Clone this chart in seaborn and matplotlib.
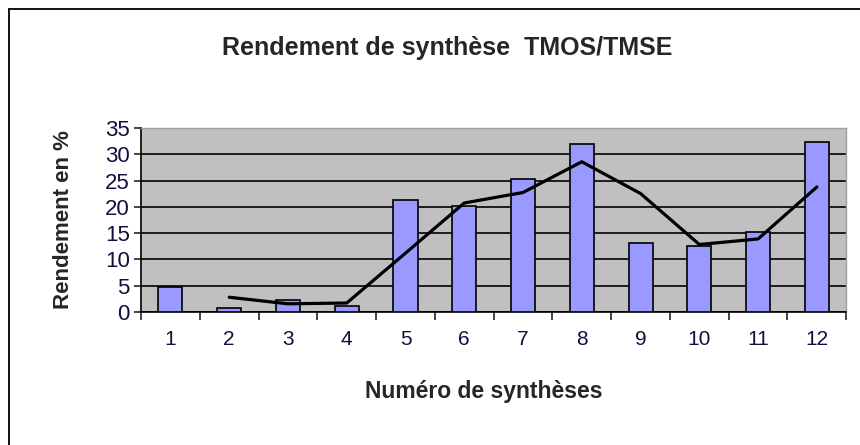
import numpy as np
import pandas as pd
import matplotlib
matplotlib.use("Agg")
import matplotlib.pyplot as plt
from matplotlib.lines import Line2D
import seaborn as sns

# Synthesis numbers and yields (%)
syntheses = ["1", "2", "3", "4", "5", "6", "7", "8", "9", "10", "11", "12"]
rendement = [4.8, 0.8, 2.3, 1.1, 21.3, 20.2, 25.3, 31.9, 13.2, 12.5, 15.3, 32.3]
y_ticks = [0, 5, 10, 15, 20, 25, 30, 35]

df = pd.DataFrame({"synthese": syntheses, "rendement": rendement})
# two-period moving average trend line
df["moyenne"] = df["rendement"].rolling(2).mean()
df["pos"] = np.arange(len(df))

sns.set_style("white")
plt.rcParams["font.family"] = ["Liberation Sans", "DejaVu Sans"]

fig = plt.figure(figsize=(8.6, 4.45), dpi=100)
ax = fig.add_axes([0.164, 0.299, 0.820, 0.413])
ax.set_facecolor("#C0C0C0")

sns.barplot(data=df, x="synthese", y="rendement", color="#9999FF",
            edgecolor="black", linewidth=1.2, width=0.41, saturation=1, ax=ax, zorder=3)
sns.lineplot(data=df.dropna(), x="pos", y="moyenne", color="black",
             linewidth=2.3, ax=ax, zorder=4)

ax.set_xlim(-0.5, len(syntheses) - 0.5)
ax.set_ylim(0, 35)
ax.set_yticks(y_ticks)
ax.grid(axis="y", color="black", linewidth=1.2, zorder=0)
ax.set_axisbelow(True)

for side in ["top", "right"]:
    ax.spines[side].set_visible(True)
    ax.spines[side].set_color("#A0A0A0")
    ax.spines[side].set_linewidth(1)
for side in ["left", "bottom"]:
    ax.spines[side].set_color("black")
    ax.spines[side].set_linewidth(1.2)

label_color = "#101040"
ax.tick_params(axis="y", labelsize=16, labelcolor=label_color, length=5,
               width=1.2, direction="out", left=True, pad=3)
ax.set_xticks(np.arange(len(syntheses)))
ax.set_xticklabels(syntheses)
ax.tick_params(axis="x", labelsize=15, labelcolor=label_color, length=0, pad=13)
ax.set_xticks(np.arange(len(syntheses) + 1) - 0.5, minor=True)
ax.tick_params(axis="x", which="minor", length=6, width=1.2, direction="out", bottom=True)

ax.set_xlabel("Numéro de synthèses", fontsize=16.5, fontweight="bold", labelpad=15)
ax.xaxis.set_label_coords(0.486, -0.37)
ax.set_ylabel("Rendement en %", fontsize=16, fontweight="bold", labelpad=22)
fig.text(0.52, 0.892, "Rendement de synthèse  TMOS/TMSE", ha="center", va="center",
         fontsize=18, fontweight="bold")

# chart frame (left and top edges visible)
fig.lines.append(Line2D([9 / 860, 9 / 860], [0, 1 - 9 / 445], transform=fig.transFigure,
                        color="black", linewidth=1.3))
fig.lines.append(Line2D([9 / 860, 1], [1 - 9 / 445, 1 - 9 / 445], transform=fig.transFigure,
                        color="black", linewidth=1.3))

fig.savefig("out.png", dpi=100)
